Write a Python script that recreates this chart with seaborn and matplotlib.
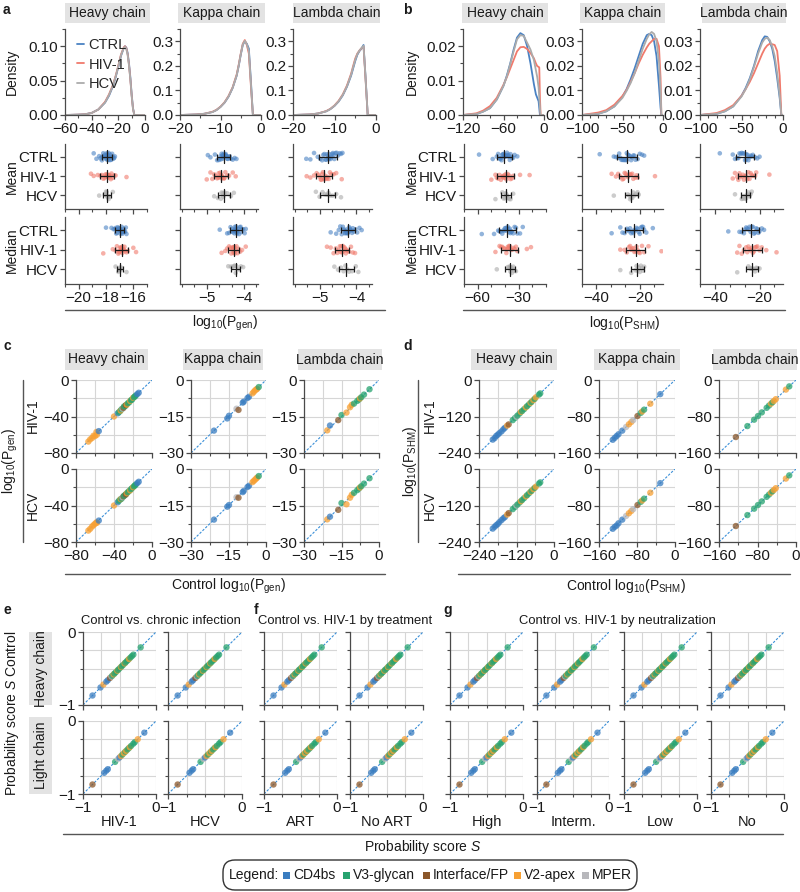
import numpy as np
import pandas as pd
import matplotlib
matplotlib.use('Agg')
import matplotlib.pyplot as plt
import seaborn as sns
from matplotlib.patches import Rectangle, FancyBboxPatch
from matplotlib.ticker import MultipleLocator, FormatStrFormatter

# ---------------- data ----------------
groups = ['CTRL', 'HIV-1', 'HCV']
cats = ['CD4bs', 'V3-glycan', 'Interface/FP', 'V2-apex', 'MPER']
cat_codes = {'C': 'CD4bs', 'V': 'V3-glycan', 'I': 'Interface/FP', 'A': 'V2-apex', 'M': 'MPER'}

# panel a densities (log10 Pgen)
a_heavy_x = [-60, -50, -45, -40, -35, -30, -27, -24, -22, -20, -18, -16, -15, -14, -13, -12, -11, -10, -9, -8, 0]
a_heavy_ctrl = [0, 0.0005, 0.001, 0.003, 0.008, 0.018, 0.028, 0.042, 0.055, 0.07, 0.086, 0.097, 0.1, 0.098, 0.09, 0.075, 0.055, 0.03, 0.01, 0, 0]
a_heavy_hiv = [0, 0.0005, 0.001, 0.003, 0.008, 0.019, 0.03, 0.044, 0.057, 0.072, 0.088, 0.098, 0.1, 0.097, 0.088, 0.073, 0.052, 0.028, 0.009, 0, 0]
a_heavy_hcv = [0, 0.0005, 0.001, 0.003, 0.008, 0.018, 0.029, 0.043, 0.056, 0.071, 0.087, 0.097, 0.099, 0.096, 0.087, 0.072, 0.052, 0.028, 0.009, 0, 0]
a_kappa_x = [-20, -16, -14, -12, -11, -10, -9, -8, -7, -6, -5.5, -5, -4.5, -4, -3.5, -3, -2.5, -2, 0]
a_kappa_ctrl = [0, 0.002, 0.005, 0.012, 0.02, 0.033, 0.05, 0.075, 0.11, 0.16, 0.2, 0.245, 0.285, 0.3, 0.29, 0.27, 0.14, 0, 0]
a_kappa_hiv = [0, 0.002, 0.005, 0.013, 0.021, 0.034, 0.052, 0.078, 0.113, 0.165, 0.205, 0.25, 0.29, 0.305, 0.285, 0.25, 0.12, 0, 0]
a_kappa_hcv = [0, 0.002, 0.005, 0.012, 0.02, 0.033, 0.051, 0.076, 0.111, 0.162, 0.202, 0.247, 0.287, 0.302, 0.288, 0.26, 0.13, 0, 0]
a_lambda_x = [-20, -16, -14, -12, -11, -10, -9, -8, -7, -6, -5.5, -5, -4.5, -4, -3.5, -3, -2.5, -2, 0]
a_lambda_ctrl = [0, 0.002, 0.006, 0.015, 0.024, 0.037, 0.055, 0.08, 0.115, 0.16, 0.19, 0.22, 0.245, 0.26, 0.27, 0.285, 0.15, 0, 0]
a_lambda_hiv = [0, 0.002, 0.006, 0.016, 0.025, 0.039, 0.058, 0.084, 0.12, 0.168, 0.2, 0.23, 0.25, 0.262, 0.272, 0.278, 0.14, 0, 0]
a_lambda_hcv = [0, 0.002, 0.006, 0.015, 0.024, 0.038, 0.056, 0.082, 0.117, 0.164, 0.195, 0.225, 0.248, 0.262, 0.272, 0.282, 0.145, 0, 0]

# panel b densities (log10 PSHM)
b_heavy_x = [-120, -100, -90, -80, -70, -60, -55, -50, -45, -40, -35, -30, -25, -20, -15, -12, -10, -8, -7, -6, -5, 0]
b_heavy_ctrl = [0, 0.0003, 0.001, 0.002, 0.0045, 0.0085, 0.0115, 0.015, 0.019, 0.0225, 0.0238, 0.0232, 0.02, 0.015, 0.009, 0.006, 0.005, 0.004, 0.002, 0, 0, 0]
b_heavy_hiv = [0, 0.0005, 0.0013, 0.0026, 0.005, 0.0088, 0.011, 0.0135, 0.016, 0.0185, 0.0197, 0.0198, 0.0192, 0.018, 0.0165, 0.015, 0.0142, 0.014, 0.0138, 0.005, 0, 0]
b_heavy_hcv = [0, 0.0003, 0.001, 0.002, 0.0045, 0.0085, 0.0112, 0.0148, 0.0185, 0.022, 0.0232, 0.023, 0.021, 0.019, 0.016, 0.013, 0.011, 0.008, 0.005, 0.002, 0, 0]
b_kappa_x = [-100, -80, -70, -60, -50, -45, -40, -35, -30, -25, -20, -17, -14, -11, -8, -5, -3, -2, 0]
b_kappa_ctrl = [0, 0.0005, 0.0015, 0.0035, 0.0075, 0.0105, 0.0145, 0.019, 0.024, 0.029, 0.0325, 0.033, 0.0325, 0.03, 0.024, 0.012, 0.003, 0, 0]
b_kappa_hiv = [0, 0.001, 0.002, 0.0042, 0.0078, 0.0102, 0.0135, 0.017, 0.021, 0.0245, 0.0275, 0.029, 0.03, 0.031, 0.031, 0.028, 0.015, 0, 0]
b_kappa_hcv = [0, 0.0005, 0.0015, 0.0035, 0.007, 0.0098, 0.013, 0.017, 0.022, 0.027, 0.031, 0.0328, 0.0338, 0.033, 0.03, 0.022, 0.01, 0, 0]
b_lambda_x = [-100, -80, -70, -60, -50, -45, -40, -35, -30, -25, -22, -19, -16, -13, -10, -7, -4, -2, 0]
b_lambda_ctrl = [0, 0.0005, 0.0015, 0.0035, 0.0078, 0.011, 0.015, 0.02, 0.026, 0.0305, 0.032, 0.0318, 0.03, 0.027, 0.022, 0.015, 0.007, 0, 0]
b_lambda_hiv = [0, 0.0008, 0.002, 0.004, 0.0078, 0.0105, 0.0135, 0.017, 0.021, 0.025, 0.027, 0.0283, 0.029, 0.0288, 0.0285, 0.026, 0.016, 0, 0]
b_lambda_hcv = [0, 0.0005, 0.0015, 0.0035, 0.0075, 0.0105, 0.0145, 0.0195, 0.025, 0.0295, 0.031, 0.0315, 0.0305, 0.028, 0.024, 0.017, 0.008, 0, 0]

# panel a per-donor means / medians
a_heavy_mean_ctrl = [-18.9, -18.7, -18.5, -18.4, -18.3, -18.3, -18.2, -18.2, -18.1, -18.1, -18.0, -18.0, -18.0, -17.95, -17.9, -17.9, -17.9, -17.85, -17.8, -17.8, -17.75, -17.7, -17.7, -17.65, -17.6, -17.55, -17.5, -17.45, -17.4, -17.35]
a_heavy_mean_hiv = [-19.1, -18.9, -18.6, -18.4, -18.3, -18.2, -18.1, -18.05, -18.0, -17.95, -17.9, -17.9, -17.85, -17.8, -17.8, -17.75, -17.7, -17.65, -17.6, -17.5, -17.4, -17.3, -16.5]
a_heavy_mean_hcv = [-18.5, -18.1, -18.0, -17.95, -17.9, -17.9, -17.85, -17.8, -17.75, -17.5]
a_heavy_med_ctrl = [-18.0, -17.6, -17.45, -17.35, -17.3, -17.25, -17.2, -17.15, -17.1, -17.1, -17.05, -17.0, -17.0, -16.95, -16.95, -16.9, -16.9, -16.85, -16.85, -16.8, -16.8, -16.75, -16.7, -16.7, -16.65, -16.6, -16.55, -16.5]
a_heavy_med_hiv = [-18.2, -17.5, -17.3, -17.2, -17.1, -17.05, -17.0, -17.0, -16.95, -16.9, -16.9, -16.85, -16.8, -16.8, -16.75, -16.7, -16.65, -16.6, -16.5, -16.4, -16.0, -15.8]
a_heavy_med_hcv = [-17.3, -17.1, -17.05, -17.0, -17.0, -16.95, -16.9, -16.5]
a_kappa_mean_ctrl = [-4.97, -4.9, -4.78, -4.72, -4.68, -4.65, -4.63, -4.61, -4.6, -4.58, -4.57, -4.56, -4.55, -4.54, -4.53, -4.52, -4.5, -4.49, -4.48, -4.46, -4.45, -4.43, -4.41, -4.38, -4.35, -4.3, -4.25, -4.2]
a_kappa_mean_hiv = [-5.0, -4.9, -4.85, -4.8, -4.76, -4.72, -4.7, -4.68, -4.66, -4.64, -4.62, -4.6, -4.6, -4.58, -4.56, -4.54, -4.52, -4.5, -4.45, -4.4, -4.3, -4.22]
a_kappa_mean_hcv = [-4.8, -4.7, -4.62, -4.6, -4.57, -4.55, -4.52, -4.45, -4.35, -4.27]
a_kappa_med_ctrl = [-4.65, -4.45, -4.4, -4.36, -4.33, -4.31, -4.29, -4.27, -4.26, -4.25, -4.24, -4.23, -4.22, -4.21, -4.2, -4.19, -4.18, -4.17, -4.15, -4.13, -4.11, -4.09, -4.07, -4.05, -4.02, -3.98, -3.95]
a_kappa_med_hiv = [-4.6, -4.5, -4.45, -4.4, -4.37, -4.34, -4.32, -4.3, -4.29, -4.28, -4.27, -4.26, -4.25, -4.24, -4.22, -4.2, -4.17, -4.14, -4.1, -4.05, -3.95]
a_kappa_med_hcv = [-4.42, -4.35, -4.3, -4.26, -4.24, -4.22, -4.2, -4.15, -4.08, -4.02]
a_lambda_mean_ctrl = [-5.36, -5.25, -5.15, -5.05, -4.98, -4.93, -4.9, -4.87, -4.84, -4.82, -4.8, -4.78, -4.76, -4.75, -4.74, -4.72, -4.7, -4.68, -4.66, -4.64, -4.62, -4.6, -4.57, -4.54, -4.5, -4.46, -4.42, -4.38]
a_lambda_mean_hiv = [-5.35, -5.25, -5.15, -5.08, -5.03, -5.0, -4.97, -4.95, -4.93, -4.91, -4.89, -4.87, -4.85, -4.83, -4.8, -4.78, -4.75, -4.72, -4.68, -4.62, -4.55, -4.4]
a_lambda_mean_hcv = [-5.1, -5.0, -4.92, -4.86, -4.8, -4.76, -4.72, -4.65, -4.55, -4.42]
a_lambda_med_ctrl = [-4.7, -4.55, -4.48, -4.44, -4.4, -4.37, -4.35, -4.33, -4.31, -4.3, -4.28, -4.27, -4.26, -4.25, -4.24, -4.22, -4.2, -4.18, -4.16, -4.14, -4.12, -4.1, -4.07, -4.03, -3.98, -3.92, -3.86]
a_lambda_med_hiv = [-4.8, -4.7, -4.62, -4.56, -4.52, -4.48, -4.45, -4.43, -4.41, -4.39, -4.37, -4.35, -4.33, -4.31, -4.29, -4.27, -4.24, -4.2, -4.15, -4.1, -4.04]
a_lambda_med_hcv = [-4.6, -4.5, -4.42, -4.35, -4.3, -4.25, -4.2, -4.12, -4.02, -3.95]

# panel b per-donor means / medians
b_heavy_mean_ctrl = [-59, -49, -46, -45, -44, -43.5, -43, -42.5, -42, -41.5, -41, -40.5, -40, -40, -39.5, -39, -38.5, -38, -37.5, -37, -36.5, -36, -35, -34, -33, -31]
b_heavy_mean_hiv = [-50, -47, -46, -45, -44, -43, -42, -41.5, -41, -40.5, -40, -39.5, -39, -38.5, -38, -37, -36, -35, -34, -29, -22]
b_heavy_mean_hcv = [-47, -42, -41, -40, -39.5, -39, -38.5, -38, -37, -36, -34]
b_heavy_med_ctrl = [-57, -48, -45, -44, -43, -42, -41, -40.5, -40, -39.5, -39, -38.5, -38, -37.5, -37, -36.5, -36, -35.5, -35, -34, -33, -32, -31, -29, -27]
b_heavy_med_hiv = [-47, -44, -43, -42, -41, -40, -39, -38.5, -38, -37.5, -37, -36.5, -36, -35, -34, -33, -32, -31, -24, -21]
b_heavy_med_hcv = [-46, -38, -37, -36.5, -36, -35.5, -35, -34.5, -34, -33, -32]
b_kappa_mean_ctrl = [-38.5, -32, -31, -30, -29.5, -29, -28.5, -28, -27.5, -27, -26.5, -26, -26, -25.5, -25, -24.5, -24, -23.5, -23, -22.5, -22, -21, -20, -19, -18]
b_kappa_mean_hiv = [-33, -31, -30, -29, -28, -27.5, -27, -26.5, -26, -25.5, -25, -24.5, -24, -23.5, -23, -22, -21.5, -21, -13]
b_kappa_mean_hcv = [-32, -25.5, -25, -24.5, -24, -23.5, -23, -22.5, -22, -21, -20.5]
b_kappa_med_ctrl = [-33, -29, -28, -27, -26, -25.5, -25, -24.5, -24, -23.5, -23, -22.5, -22, -21.5, -21, -20.5, -20, -19.5, -19, -18.5, -18, -17, -14]
b_kappa_med_hiv = [-29, -27, -26, -25, -24.5, -24, -23.5, -23, -22.5, -22, -21.5, -21, -20.5, -20, -19, -18, -16, -10]
b_kappa_med_hcv = [-29, -24, -22, -21.5, -21, -20.5, -20, -19.5, -19, -18.5, -18]
b_lambda_mean_ctrl = [-37.8, -32, -31, -30, -29.5, -29, -28.5, -28, -27.5, -27, -26.5, -26, -26, -25.5, -25, -24.5, -24, -23.5, -23, -22, -21, -20]
b_lambda_mean_hiv = [-32, -31, -30, -29.5, -29, -28.5, -28, -27.5, -27, -26.5, -26, -25.5, -25, -24.5, -24, -23.5, -23, -22, -21.5, -15.6]
b_lambda_mean_hcv = [-31, -28, -27.5, -27, -26.5, -26, -25.5, -25, -24.5, -24, -23.5]
b_lambda_med_ctrl = [-34, -29, -28, -27, -26.5, -26, -25.5, -25, -24.5, -24, -23.5, -23, -22.5, -22, -21.5, -21, -20.5, -20, -19, -18]
b_lambda_med_hiv = [-30, -29, -28, -27, -26, -25.5, -25, -24.5, -24, -23.5, -23, -22.5, -22, -21.5, -21, -20, -19, -17, -12.4]
b_lambda_med_hcv = [-30, -25, -24.5, -24, -23.5, -23, -22.5, -22, -21.5, -21, -20]

# panel c: per-antibody log10 Pgen, control vs HIV-1 / HCV
c_heavy_cat = 'AAAAAAACACVVAVMIVVIAVVAVVAVVVCC'
c_heavy_ctrl = [-67, -65, -63, -61.5, -60, -58.5, -58, -56, -40, -36, -35, -33.5, -33, -32, -31, -30, -29.5, -28, -27.5, -26.5, -25.5, -24, -23, -22, -21, -20, -19, -18, -17, -15.5, -14]
c_heavy_hiv = [-67.5, -65, -63.5, -61, -61.5, -57, -60, -56, -40, -36.5, -35.5, -34, -33.5, -32, -31.5, -30.5, -29, -28.5, -27.5, -27, -25.5, -24.5, -23, -22, -21.5, -19.5, -19, -18, -17, -15.5, -14]
c_heavy_hcv = [-67.5, -65.5, -63, -61.5, -60, -58.5, -59, -56.5, -40, -36.5, -35, -33.5, -33, -32.5, -31, -30, -29.5, -28, -28, -26.5, -25.5, -24, -23.5, -22, -21, -20, -19, -18, -17, -15.5, -14]
c_kappa_cat = 'CCCMICCCCAAAAAV'
c_kappa_ctrl = [-20.8, -15.5, -14.8, -11.8, -11.0, -9.3, -8.9, -7.4, -6.8, -5.4, -4.9, -4.4, -3.9, -3.5, -2.9]
c_kappa_hiv = [-20.8, -15.8, -14.7, -11.8, -12.3, -9.3, -8.9, -7.4, -6.9, -5.5, -4.9, -4.3, -3.9, -3.6, -2.9]
c_kappa_hcv = [-20.8, -15.5, -14.8, -11.6, -11.8, -9.5, -9.0, -7.4, -6.9, -5.4, -4.9, -4.4, -3.9, -3.5, -2.9]
c_lambda_cat = 'ACIVAAAVVVAVVV'
c_lambda_ctrl = [-20.7, -19.6, -16.3, -15.0, -13.0, -11.6, -10.9, -10.0, -8.7, -8.0, -7.6, -7.1, -6.0, -3.8]
c_lambda_hiv = [-20.7, -18.7, -16.5, -14.4, -13.4, -11.2, -10.2, -9.7, -8.6, -8.0, -7.6, -7.1, -6.0, -3.8]
c_lambda_hcv = [-20.7, -19.6, -16.8, -14.0, -14.5, -11.8, -10.6, -9.8, -8.7, -8.0, -7.6, -7.1, -6.0, -3.8]

# panel d: per-antibody log10 PSHM
d_heavy_cat = 'CCCCCCCCAIVVMVVAVVAVVAVAVAVV'
d_heavy_ctrl = [-196, -190, -185, -180, -175, -168, -162, -157, -150, -145, -132, -125, -120, -117, -110, -106, -102, -96, -90, -86, -80, -75, -72, -66, -62, -58, -48, -44]
d_heavy_hiv = [-196, -191, -184, -180, -175, -169, -162, -157, -150, -146, -132, -125, -121, -117, -110, -105, -102, -96, -90, -86, -80, -75, -72, -66, -62, -57, -48, -44]
d_heavy_hcv = [-196, -190, -185, -181, -175, -168, -162, -158, -150, -145, -132, -125, -120, -117, -110, -106, -102, -96, -90, -86, -80, -75, -72, -66, -62, -58, -48, -44]
d_kappa_cat = 'CCCCCMAAMIVAVAC'
d_kappa_ctrl = [-131, -127, -123, -119, -111, -103, -97, -92, -88, -79, -72, -69, -65, -52, -31]
d_kappa_hiv = [-131, -127, -123, -119, -111, -103, -97, -92, -88, -79, -72, -69, -65, -52, -31]
d_kappa_hcv = [-131, -127, -124, -119, -111, -103, -97, -92, -88, -79, -72, -69, -65, -52, -31]
d_lambda_cat = 'IVVVVVVAVAAAV'
d_lambda_ctrl = [-125, -101, -87, -79, -71, -61, -56, -52, -49, -46, -42, -21, -14]
d_lambda_hiv = [-125, -101, -87, -79, -71, -61, -56, -52, -49, -46, -42, -21, -14]
d_lambda_hcv = [-125, -101, -87, -79, -71, -61, -56, -52, -49, -46, -42, -21, -14]

# panels e-g: probability score S per antibody (group score = control score)
s_heavy_cat = 'CCACCIMVAVVAVVAVVAVVVAVVVV'
s_heavy = [-0.87, -0.76, -0.72, -0.68, -0.66, -0.63, -0.61, -0.6, -0.58, -0.57, -0.55, -0.53, -0.52, -0.5, -0.48, -0.47, -0.45, -0.43, -0.42, -0.4, -0.38, -0.37, -0.35, -0.33, -0.31, -0.21]
s_light_cat = 'ICCCVMCAVAVAVVAVVVAC'
s_light = [-0.87, -0.71, -0.68, -0.66, -0.56, -0.52, -0.5, -0.48, -0.46, -0.44, -0.42, -0.41, -0.39, -0.37, -0.36, -0.34, -0.31, -0.29, -0.25, -0.16]
eg_columns = ['HIV-1', 'HCV', 'ART', 'No ART', 'High', 'Interm.', 'Low', 'No']

# ---------------- style ----------------
sns.set_theme(style='ticks')
plt.rcParams['font.family'] = ['Liberation Sans', 'DejaVu Sans']
plt.rcParams['mathtext.fontset'] = 'custom'
plt.rcParams['mathtext.rm'] = 'Liberation Sans'
plt.rcParams['mathtext.it'] = 'Liberation Sans:italic'
plt.rcParams['mathtext.bf'] = 'Liberation Sans:bold'
np.random.seed(7)

gpal = {'CTRL': '#4a82c3', 'HIV-1': '#f07a6c', 'HCV': '#ababab'}
catpal = dict(zip(cats, ['#3a7dc0', '#27a36f', '#8b572a', '#f7a033', '#b8b8bc']))
SP = '#4a4a4a'
TXT = '#1a1a1a'
FS = 10
TFS = 11

W, H = 800, 892
fig = plt.figure(figsize=(W / 100, H / 100), dpi=100)
ov = fig.add_axes([0, 0, 1, 1], zorder=-5)
ov.set_xlim(0, W)
ov.set_ylim(H, 0)
ov.axis('off')


def add_ax(x0, y0, x1, y1):
    ax = fig.add_axes([x0 / W, 1 - y1 / H, (x1 - x0) / W, (y1 - y0) / H])
    ax.set_facecolor('none')
    return ax


def style(ax):
    for s in ['top', 'right']:
        ax.spines[s].set_visible(False)
    for s in ['left', 'bottom']:
        ax.spines[s].set_color(SP)
        ax.spines[s].set_linewidth(0.9)
    ax.tick_params(which='major', length=3.5, width=0.9, color=SP, labelsize=TFS, labelcolor=TXT, pad=1.5)
    ax.tick_params(which='minor', length=2, width=0.8, color=SP)
    ax.set_xlabel('')
    ax.set_ylabel('')


def txt(x, y, s, **kw):
    kw.setdefault('fontsize', FS)
    kw.setdefault('color', TXT)
    kw.setdefault('ha', 'center')
    kw.setdefault('va', 'center')
    ov.text(x, y, s, **kw)


def header(x0, y0, x1, y1, s, rot=0):
    ov.add_patch(Rectangle((x0, y0), x1 - x0, y1 - y0, facecolor='#e3e3e3', edgecolor='none'))
    txt((x0 + x1) / 2, (y0 + y1) / 2, s, rotation=rot)


def hline(x0, x1, y):
    ov.plot([x0, x1], [y, y], color='#555555', lw=1)


def vline(x, y0, y1):
    ov.plot([x, x], [y0, y1], color='#555555', lw=1)


def density(box, x, ys, xlim, xmaj, xmin, ylim, ymaj, ymin, yfmt, legend=False):
    ax = add_ax(*box)
    df = pd.DataFrame({'x': np.tile(x, 3), 'y': np.concatenate(ys),
                       'g': np.repeat(groups, len(x))})
    sns.lineplot(data=df, x='x', y='y', hue='g', hue_order=groups, palette=gpal,
                 lw=1.3, estimator=None, sort=False, ax=ax, legend=legend)
    ax.set_xlim(*xlim)
    ax.set_ylim(*ylim)
    ax.xaxis.set_major_locator(MultipleLocator(xmaj))
    ax.xaxis.set_minor_locator(MultipleLocator(xmin))
    ax.yaxis.set_major_locator(MultipleLocator(ymaj))
    ax.yaxis.set_minor_locator(MultipleLocator(ymin))
    ax.yaxis.set_major_formatter(FormatStrFormatter(yfmt))
    style(ax)
    if legend:
        sns.move_legend(ax, 'upper left', bbox_to_anchor=(0.04, 1.0), title=None, frameon=False,
                        fontsize=FS + 0.5, handlelength=0.45, handletextpad=0.35, labelspacing=0.4,
                        borderaxespad=0.2)
    return ax


def strip(box, vals, xlim, ylim, xmaj, xmin, labels, xlabels):
    ax = add_ax(*box)
    df = pd.DataFrame({'v': np.concatenate(vals),
                       'g': np.repeat(groups, [len(v) for v in vals])})
    sns.stripplot(data=df, x='v', y='g', hue='g', order=groups, hue_order=groups,
                  palette=gpal, size=3.3, alpha=0.6, jitter=0.2, linewidth=0,
                  legend=False, ax=ax)
    for i, v in enumerate(vals):
        m, s = np.mean(v), np.std(v, ddof=1)
        ax.errorbar(m, i, xerr=s, fmt='none', ecolor='k', elinewidth=0.9,
                    capsize=2.2, capthick=0.9, zorder=5)
        ax.plot([m, m], [i - 0.32, i + 0.32], color='k', lw=0.9, zorder=5)
    ax.set_xlim(*xlim)
    ax.set_ylim(*ylim)
    ax.xaxis.set_major_locator(MultipleLocator(xmaj))
    ax.xaxis.set_minor_locator(MultipleLocator(xmin))
    style(ax)
    ax.tick_params(axis='y', labelleft=labels)
    ax.tick_params(axis='x', which='both', labelbottom=xlabels)
    return ax


def scat(box, xv, yv, codes, lo, maj, mnr, ylabels=True, xlabels=True):
    ax = add_ax(*box)
    df = pd.DataFrame({'x': xv, 'y': yv, 'cat': [cat_codes[c] for c in codes]})
    ax.plot([lo, 0], [lo, 0], ls=(0, (2.2, 1.4)), color='#3a8fd8', lw=0.8, zorder=2)
    sns.scatterplot(data=df, x='x', y='y', hue='cat', palette=catpal, s=21, alpha=0.75,
                    linewidth=0, legend=False, ax=ax, zorder=3)
    ax.set_xlim(lo, 0)
    ax.set_ylim(lo, 0)
    for axis in (ax.xaxis, ax.yaxis):
        axis.set_major_locator(MultipleLocator(maj))
        axis.set_minor_locator(MultipleLocator(mnr))
    ax.grid(True, which='both', color='#d6d6d6', lw=0.8)
    ax.set_axisbelow(True)
    style(ax)
    ax.tick_params(axis='y', labelleft=ylabels)
    ax.tick_params(axis='x', labelbottom=xlabels)
    return ax


# ---------------- panel a ----------------
txt(3, 10, 'a', fontweight='bold', fontsize=10, ha='left')
header(65, 3, 150, 23, 'Heavy chain')
header(178, 3, 265, 23, 'Kappa chain')
header(293, 3, 380, 23, 'Lambda chain')
density((65, 29, 145, 115), a_heavy_x, [a_heavy_ctrl, a_heavy_hiv, a_heavy_hcv],
        (-60, 0), 20, 10, (0, 0.125), 0.05, 0.025, '%.2f', legend=True)
density((180, 29, 261, 115), a_kappa_x, [a_kappa_ctrl, a_kappa_hiv, a_kappa_hcv],
        (-20, 0), 10, 5, (0, 0.35), 0.1, 0.05, '%.1f')
density((293, 29, 376, 115), a_lambda_x, [a_lambda_ctrl, a_lambda_hiv, a_lambda_hcv],
        (-20, 0), 10, 5, (0, 0.35), 0.1, 0.05, '%.1f')
MEAN_Y = (2.7, -0.65)
MED_Y = (2.75, -0.68)
strip((65, 144, 147, 209), [a_heavy_mean_ctrl, a_heavy_mean_hiv, a_heavy_mean_hcv], (-21, -15), MEAN_Y, 2, 1, True, False)
strip((180, 144, 258, 209), [a_kappa_mean_ctrl, a_kappa_mean_hiv, a_kappa_mean_hcv], (-5.72, -3.62), MEAN_Y, 1, 1 / 3, False, False)
strip((293, 144, 372, 209), [a_lambda_mean_ctrl, a_lambda_mean_hiv, a_lambda_mean_hcv], (-5.72, -3.58), MEAN_Y, 1, 1 / 3, False, False)
strip((65, 217, 147, 284), [a_heavy_med_ctrl, a_heavy_med_hiv, a_heavy_med_hcv], (-21, -15), MED_Y, 2, 1, True, True)
strip((180, 217, 258, 284), [a_kappa_med_ctrl, a_kappa_med_hiv, a_kappa_med_hcv], (-5.72, -3.62), MED_Y, 1, 1 / 3, False, True)
strip((293, 217, 372, 284), [a_lambda_med_ctrl, a_lambda_med_hiv, a_lambda_med_hcv], (-5.72, -3.58), MED_Y, 1, 1 / 3, False, True)
txt(12, 72, 'Density', rotation=90)
txt(12, 177, 'Mean', rotation=90)
txt(12, 250, 'Median', rotation=90)
hline(65, 385, 310)
txt(225, 323, r'log$_{10}$(P$_{\mathrm{gen}}$)')

# ---------------- panel b ----------------
txt(403, 10, 'b', fontweight='bold', fontsize=10, ha='left')
header(462, 3, 548, 23, 'Heavy chain')
header(580, 3, 665, 23, 'Kappa chain')
header(702, 3, 786, 23, 'Lambda chain')
density((463, 29, 544, 115), b_heavy_x, [b_heavy_ctrl, b_heavy_hiv, b_heavy_hcv],
        (-120, 0), 60, 20, (0, 0.025), 0.01, 0.005, '%.2f')
density((582, 29, 663, 115), b_kappa_x, [b_kappa_ctrl, b_kappa_hiv, b_kappa_hcv],
        (-100, 0), 50, 10, (0, 0.035), 0.01, 0.005, '%.2f')
density((700, 29, 783, 115), b_lambda_x, [b_lambda_ctrl, b_lambda_hiv, b_lambda_hcv],
        (-100, 0), 50, 10, (0, 0.035), 0.01, 0.005, '%.2f')
strip((464, 144, 546, 209), [b_heavy_mean_ctrl, b_heavy_mean_hiv, b_heavy_mean_hcv], (-70, -10), MEAN_Y, 30, 10, True, False)
strip((582, 144, 663, 209), [b_kappa_mean_ctrl, b_kappa_mean_hiv, b_kappa_mean_hcv], (-46.67, -9.3), MEAN_Y, 20, 20 / 3, False, False)
strip((700, 144, 783, 209), [b_lambda_mean_ctrl, b_lambda_mean_hiv, b_lambda_mean_hcv], (-46.67, -9.5), MEAN_Y, 20, 20 / 3, False, False)
strip((464, 217, 546, 284), [b_heavy_med_ctrl, b_heavy_med_hiv, b_heavy_med_hcv], (-70, -10), MED_Y, 30, 10, True, True)
strip((582, 217, 663, 284), [b_kappa_med_ctrl, b_kappa_med_hiv, b_kappa_med_hcv], (-46.67, -9.3), MED_Y, 20, 20 / 3, False, True)
strip((700, 217, 783, 284), [b_lambda_med_ctrl, b_lambda_med_hiv, b_lambda_med_hcv], (-46.67, -9.5), MED_Y, 20, 20 / 3, False, True)
txt(412, 72, 'Density', rotation=90)
txt(412, 177, 'Mean', rotation=90)
txt(412, 250, 'Median', rotation=90)
hline(463, 785, 310)
txt(625, 323, r'log$_{10}$(P$_{\mathrm{SHM}}$)')

# ---------------- panel c ----------------
ROW1 = (380, 453)
ROW2 = (469, 542)
txt(3, 346, 'c', fontweight='bold', fontsize=10, ha='left')
header(65, 349, 148, 370, 'Heavy chain')
header(183, 349, 263, 370, 'Kappa chain')
header(298, 349, 382, 370, 'Lambda chain')
c_sets = [((76, 152), c_heavy_ctrl, c_heavy_hiv, c_heavy_hcv, c_heavy_cat, -80, 40, 20),
          ((191, 266), c_kappa_ctrl, c_kappa_hiv, c_kappa_hcv, c_kappa_cat, -30, 15, 7.5),
          ((304, 379), c_lambda_ctrl, c_lambda_hiv, c_lambda_hcv, c_lambda_cat, -30, 15, 7.5)]
for (x0, x1), cx, hv, hc, cc, lo, mj, mn in c_sets:
    scat((x0, ROW1[0], x1, ROW1[1]), cx, hv, cc, lo, mj, mn, True, False)
    scat((x0, ROW2[0], x1, ROW2[1]), cx, hc, cc, lo, mj, mn, True, True)
txt(10, 461, r'log$_{10}$(P$_{\mathrm{gen}}$)', rotation=90)
vline(23, 380, 542)
txt(33, 416, 'HIV-1', rotation=90)
txt(33, 505, 'HCV', rotation=90)
hline(65, 385, 574)
txt(228, 586, r'Control log$_{10}$(P$_{\mathrm{gen}}$)')

# ---------------- panel d ----------------
txt(403, 346, 'd', fontweight='bold', fontsize=10, ha='left')
header(471, 349, 557, 370, 'Heavy chain')
header(594, 349, 680, 370, 'Kappa chain')
header(713, 349, 797, 370, 'Lambda chain')
d_sets = [((479, 554), d_heavy_ctrl, d_heavy_hiv, d_heavy_hcv, d_heavy_cat, -240, 120, 60),
          ((599, 675), d_kappa_ctrl, d_kappa_hiv, d_kappa_hcv, d_kappa_cat, -160, 80, 40),
          ((719, 796), d_lambda_ctrl, d_lambda_hiv, d_lambda_hcv, d_lambda_cat, -160, 80, 40)]
for (x0, x1), cx, hv, hc, cc, lo, mj, mn in d_sets:
    scat((x0, ROW1[0], x1, ROW1[1]), cx, hv, cc, lo, mj, mn, True, False)
    scat((x0, ROW2[0], x1, ROW2[1]), cx, hc, cc, lo, mj, mn, True, True)
txt(410, 461, r'log$_{10}$(P$_{\mathrm{SHM}}$)', rotation=90)
vline(418, 380, 542)
txt(430, 416, 'HIV-1', rotation=90)
txt(430, 505, 'HCV', rotation=90)
hline(458, 790, 574)
txt(626, 586, r'Control log$_{10}$(P$_{\mathrm{SHM}}$)')

# ---------------- panels e-g ----------------
txt(3, 610, 'e', fontweight='bold', fontsize=10, ha='left')
txt(254, 610, 'f', fontweight='bold', fontsize=10, ha='left')
txt(443, 610, 'g', fontweight='bold', fontsize=10, ha='left')
txt(161, 621, 'Control vs. chronic infection', fontsize=9.4)
txt(345, 621, 'Control vs. HIV-1 by treatment', fontsize=9.4)
txt(617, 621, 'Control vs. HIV-1 by neutralization', fontsize=9.4)
header(29, 632, 52, 705, 'Heavy chain', rot=90)
header(29, 717, 52, 794, 'Light chain', rot=90)
EROW1 = (632, 705)
EROW2 = (721, 794)
col_x = [(83, 156), (168, 242), (264, 337), (350, 423), (450, 523), (537, 609), (624, 697), (711, 784)]
for k, (name, (x0, x1)) in enumerate(zip(eg_columns, col_x)):
    scat((x0, EROW1[0], x1, EROW1[1]), s_heavy, s_heavy, s_heavy_cat, -1, 1, 0.25, k == 0, False)
    scat((x0, EROW2[0], x1, EROW2[1]), s_light, s_light, s_light_cat, -1, 1, 0.25, k == 0, True)
    txt((x0 + x1) / 2, 822, name, fontsize=FS + 0.5)
txt(12, 713, r'Probability score $S$ Control', rotation=90)
hline(63, 783, 834)
txt(423, 847, r'Probability score $S$')

# legend box
ov.add_patch(FancyBboxPatch((223, 860), 414, 30, boxstyle='round,pad=0,rounding_size=12',
                            facecolor='white', edgecolor='#333333', lw=1))
txt(229, 875, 'Legend:', ha='left')
leg_sq = [286, 346, 426, 517, 585]
for c, xs in zip(cats, leg_sq):
    ov.add_patch(Rectangle((xs - 3.5, 871.5), 7, 7, facecolor=catpal[c], edgecolor='none'))
    txt(xs + 7, 875, c, ha='left')

fig.savefig('out.png', dpi=100)
